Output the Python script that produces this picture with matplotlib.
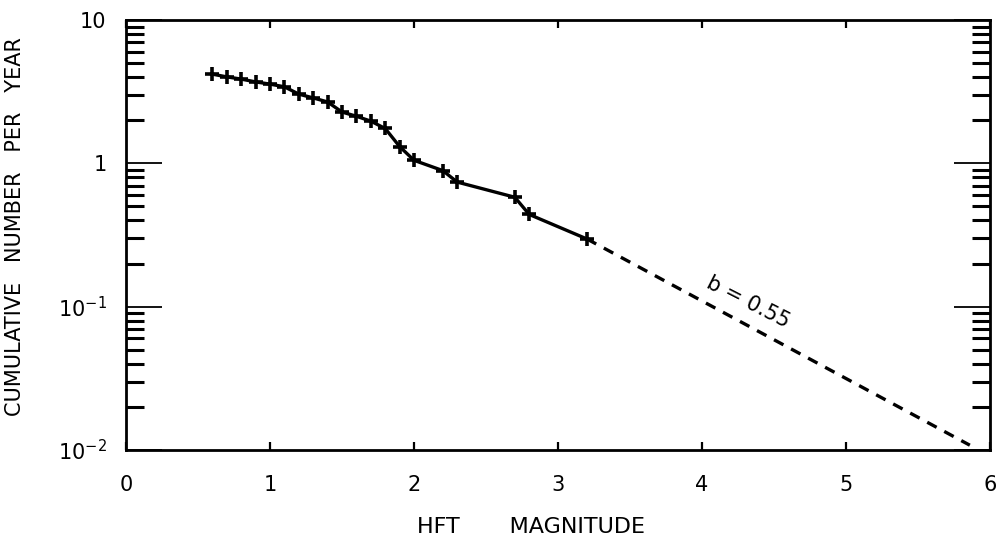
import matplotlib
matplotlib.use("Agg")
import matplotlib.pyplot as plt
from matplotlib.ticker import LogLocator, NullFormatter, FixedLocator

# HFT magnitude vs cumulative number per year
magnitude = [0.6, 0.7, 0.8, 0.9, 1.0, 1.1, 1.2, 1.3, 1.4, 1.5,
             1.6, 1.7, 1.8, 1.9, 2.0, 2.2, 2.3, 2.7, 2.8, 3.2]
cum_number = [4.19, 4.01, 3.87, 3.70, 3.57, 3.42, 3.04, 2.86, 2.68, 2.28,
              2.13, 1.97, 1.75, 1.31, 1.05, 0.89, 0.74, 0.58, 0.44, 0.297]

# extrapolation with b = 0.55
extrap_mag = [3.2, 5.86]
extrap_num = [0.297, 0.0108]

xticks = [0, 1, 2, 3, 4, 5, 6]
yticks = [0.01, 0.1, 1, 10]
ytick_labels = ["10$^{-2}$", "10$^{-1}$", "1", "10"]

fig = plt.figure(figsize=(9.97, 5.38), dpi=100)
ax = fig.add_axes([126 / 997, 1 - 450 / 538, 864 / 997, 430 / 538])

ax.plot(magnitude, cum_number, color="black", lw=2.4, marker="+",
        ms=10, mew=2.6)
ax.plot(extrap_mag, extrap_num, color="black", lw=2.4, ls=(0, (3.2, 2.6)))

ax.set_yscale("log")
ax.set_xlim(0, 6)
ax.set_ylim(0.01, 10)

ax.xaxis.set_major_locator(FixedLocator(xticks))
ax.set_xticklabels([str(t) for t in xticks])
ax.yaxis.set_major_locator(FixedLocator(yticks))
ax.set_yticklabels(ytick_labels)
ax.yaxis.set_minor_locator(LogLocator(base=10, subs=range(2, 10)))
ax.yaxis.set_minor_formatter(NullFormatter())

for s in ax.spines.values():
    s.set_linewidth(2.0)

ax.tick_params(axis="x", which="major", direction="in", length=6, width=1.6,
               top=True, bottom=True, labelsize=15, pad=18)
ax.tick_params(axis="y", which="major", direction="in", length=26, width=1.3,
               left=True, right=True, labelsize=15, pad=14)
ax.tick_params(axis="y", which="minor", direction="in", length=13, width=2.2,
               left=True, right=True)

ax.text(4.32, 0.107, "b = 0.55", rotation=-27, fontsize=15,
        ha="center", va="center")

ax.set_xlabel("HFT       MAGNITUDE", fontsize=16)
ax.xaxis.set_label_coords(0.469, -0.155)
ax.set_ylabel("CUMULATIVE   NUMBER   PER   YEAR", fontsize=15)
ax.yaxis.set_label_coords(-0.117, 0.519)

fig.savefig("out.png", dpi=100)
